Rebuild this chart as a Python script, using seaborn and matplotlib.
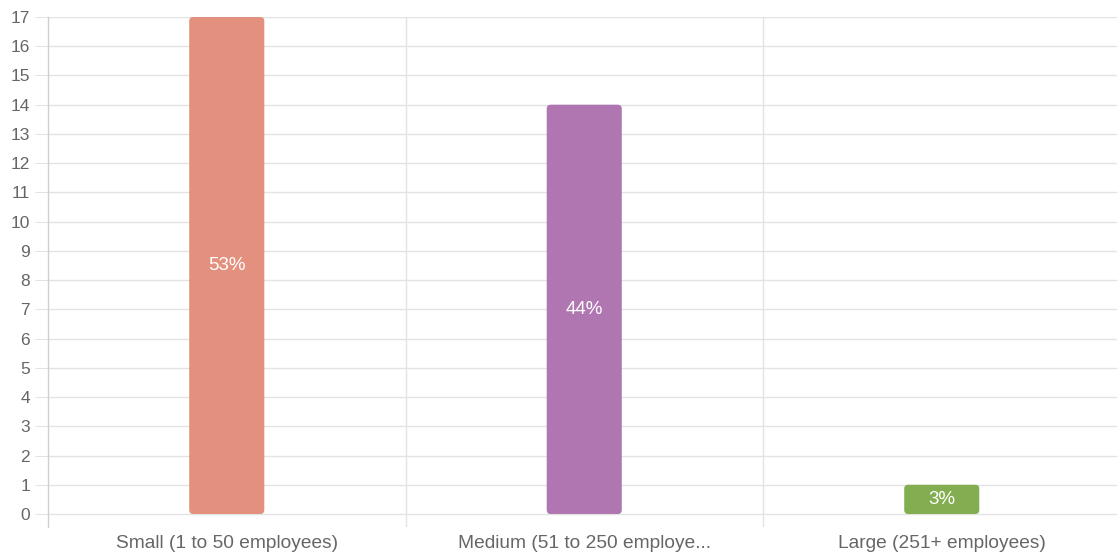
import matplotlib
matplotlib.use("Agg")
import matplotlib.pyplot as plt
from matplotlib.patches import FancyBboxPatch
from matplotlib.ticker import FixedLocator
import seaborn as sns
import pandas as pd

categories = ["Small (1 to 50 employees)", "Medium (51 to 250 employe...", "Large (251+ employees)"]
counts = [17, 14, 1]
pct_labels = ["53%", "44%", "3%"]
bar_colors = ["#E4907F", "#B076B1", "#82AD50"]
y_ticks = list(range(0, 18))

sns.set_theme(style="white")
plt.rcParams["font.family"] = ["Liberation Sans", "DejaVu Sans"]

df = pd.DataFrame({"size": categories, "count": counts})

W, H = 1117, 556
fig = plt.figure(figsize=(W / 100, H / 100), dpi=100)
ax = fig.add_axes([48 / W, 29 / H, 1072.5 / W, 510 / H])

sns.barplot(data=df, x="size", y="count", hue="size", palette=bar_colors,
            order=categories, hue_order=categories, width=0.21,
            legend=False, ax=ax, saturation=1)

ax.set_xlim(-0.5, 2.5)
ax.set_ylim(-0.445, 17)

# Swap the square bars for rounded ones of the same extent
fig.canvas.draw()
px_x = ax.transData.transform((1, 0))[0] - ax.transData.transform((0, 0))[0]
px_y = ax.transData.transform((0, 1))[1] - ax.transData.transform((0, 0))[1]
aspect = px_x / px_y
radius = 4 / px_x
for p in list(ax.patches):
    x, y = p.get_x(), p.get_y()
    w, h = p.get_width(), p.get_height()
    fc = p.get_facecolor()
    p.remove()
    ax.add_patch(FancyBboxPatch((x, y), w, h,
                                boxstyle=f"round,pad=0,rounding_size={radius}",
                                mutation_aspect=aspect, facecolor=fc,
                                edgecolor="none", zorder=3))

for i, (c, lab) in enumerate(zip(counts, pct_labels)):
    ax.text(i, c / 2, lab, ha="center", va="center", color="white",
            fontsize=13.5, zorder=4)

# Axes styling: light grid, category separators, grey tick text
grid_c = "#e3e3e3"
ax.set_yticks(y_ticks)
ax.xaxis.set_minor_locator(FixedLocator([0.5, 1.5]))
ax.yaxis.grid(True, color=grid_c, linewidth=1)
ax.xaxis.grid(True, which="minor", color=grid_c, linewidth=1)
ax.xaxis.grid(False, which="major")
ax.set_axisbelow(True)
for s in ["top", "right", "bottom"]:
    ax.spines[s].set_visible(False)
ax.spines["left"].set_color("#cfcfcf")
ax.spines["left"].set_linewidth(1)

ax.tick_params(axis="y", which="major", length=9.4, width=0.75, color=grid_c,
               pad=3.5, labelsize=12.5, labelcolor="#666666", left=True)
ax.tick_params(axis="x", which="major", length=0, pad=6, labelsize=13.8,
               labelcolor="#666666")
ax.tick_params(axis="x", which="minor", length=0)

ax.set_xlabel("")
ax.set_ylabel("")

fig.savefig("out.png", dpi=100)
